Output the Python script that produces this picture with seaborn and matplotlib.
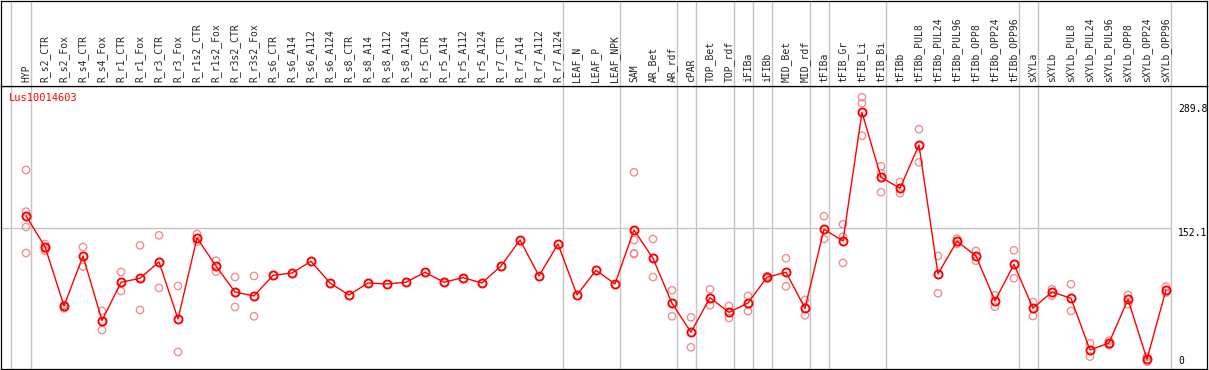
import matplotlib
matplotlib.use("Agg")
import matplotlib.pyplot as plt
import pandas as pd
import seaborn as sns

gene_id = "Lus10014603"

categories = [
    "HYP", "R_s2_CTR", "R_s2_Fox", "R_s4_CTR", "R_s4_Fox", "R_r1_CTR", "R_r1_Fox",
    "R_r3_CTR", "R_r3_Fox", "R_r1s2_CTR", "R_r1s2_Fox", "R_r3s2_CTR", "R_r3s2_Fox",
    "R_s6_CTR", "R_s6_A14", "R_s6_A112", "R_s6_A124", "R_s8_CTR", "R_s8_A14",
    "R_s8_A112", "R_s8_A124", "R_r5_CTR", "R_r5_A14", "R_r5_A112", "R_r5_A124",
    "R_r7_CTR", "R_r7_A14", "R_r7_A112", "R_r7_A124", "LEAF_N", "LEAF_P", "LEAF_NPK",
    "SAM", "AR_Bet", "AR_rdf", "cPAR", "TOP_Bet", "TOP_rdf", "iFIBa", "iFIBb",
    "MID_Bet", "MID_rdf", "tFIBa", "tFIB_Gr", "tFIB_Li", "tFIB_Bi", "tFIBb",
    "tFIBb_PUL8", "tFIBb_PUL24", "tFIBb_PUL96", "tFIBb_OPP8", "tFIBb_OPP24",
    "tFIBb_OPP96", "sXYLa", "sXYLb", "sXYLb_PUL8", "sXYLb_PUL24", "sXYLb_PUL96",
    "sXYLb_OPP8", "sXYLb_OPP24", "sXYLb_OPP96",
]

mean_values = [
    165.7, 131.7, 66.0, 121.4, 49.8, 92.3, 96.7, 114.8, 51.6, 141.4, 110.3, 81.5, 77.1,
    100.0, 102.6, 115.5, 91.5, 78.2, 91.5, 90.4, 92.3, 103.4, 92.3, 97.4, 91.5,
    110.3, 139.1, 99.3, 134.7, 78.2, 105.6, 90.4,
    150.2, 118.9, 69.0, 36.9, 75.2, 59.0, 69.3, 97.8, 103.4, 63.5,
    151.0, 138.0, 280.6, 208.6, 196.4, 244.4, 101.5, 137.7, 121.4, 71.6, 112.2,
    63.5, 81.5, 74.6, 17.3, 25.0, 73.4, 7.0, 83.7,
]

rep_values = [
    [216.7, 170.5, 153.5, 124.7], [134.7, 129.2, 127.0], [67.0, 63.5],
    [131.4, 109.6], [60.5, 39.4], [103.7, 82.6], [133.2, 61.6], [144.3, 86.0],
    [88.2, 15.1], [145.8, 137.3], [116.2, 104.0], [98.1, 64.9], [99.3, 54.6],
    [], [], [], [], [], [], [], [], [], [], [], [], [], [], [], [], [], [], [],
    [214.1, 139.1, 124.4, 123.6], [140.2, 98.1], [83.4, 54.6], [53.5, 20.3],
    [84.5, 66.8], [66.0, 52.7], [77.1, 60.2], [99.0, 96.6], [118.9, 87.8],
    [72.7, 55.7], [165.4, 140.2], [156.5, 142.8, 113.7], [297.2, 290.6, 254.7],
    [220.8, 213.0, 192.0], [203.4, 190.9], [261.8, 225.2], [121.4, 80.1],
    [140.6, 134.8], [127.0, 116.2], [77.9, 65.2], [127.7, 96.7], [70.5, 54.9],
    [84.5, 77.4], [90.1, 60.5], [24.7, 9.9], [27.6, 22.5], [78.2, 67.9],
    [9.9, 4.3], [87.4, 80.8],
]

y_marks = [289.8, 152.1, 0]
separators = [-0.8, 0.25, 28.25, 31.25, 34.25, 35.25, 37.25, 38.25, 39.25,
              41.25, 42.25, 45.25, 52.25, 53.25, 60.25]

positions = list(range(len(categories)))
mean_df = pd.DataFrame({"pos": positions, "value": mean_values})
rep_df = pd.DataFrame(
    [(i, v) for i, reps in enumerate(rep_values) for v in reps],
    columns=["pos", "value"],
)

sns.set_theme(style="white")
plt.rcParams["font.family"] = ["DejaVu Sans Mono", "DejaVu Sans"]

W, H = 1209, 370
fig = plt.figure(figsize=(W / 100, H / 100), dpi=100)
ax = fig.add_axes([1 / W, 1 / H, 1206 / W, 283 / H])
ax_head = fig.add_axes([1 / W, 284 / H, 1206 / W, 85 / H], sharex=ax)

grid_color = "#c4c4c4"
for s in separators:
    ax.axvline(s, color=grid_color, lw=1, zorder=0)
    ax_head.axvline(s, color=grid_color, lw=1, zorder=0)
ax.hlines(152.1, -1.4, 60.25, color=grid_color, lw=1, zorder=0)

sns.scatterplot(data=rep_df, x="pos", y="value", ax=ax, marker="o", s=28,
                facecolor="none", edgecolor="#ee9090", linewidth=1.0,
                legend=False, zorder=2)
sns.lineplot(data=mean_df, x="pos", y="value", ax=ax, color="red", linewidth=1,
             marker="o", markersize=5.8, markerfacecolor="none",
             markeredgecolor="red", markeredgewidth=1.4, zorder=3)

ax.set_xlim(-1.316, 62.16)
ax.set_ylim(-3.8, 309.7)
ax.set_xticks([])
ax.set_yticks([])
ax.set_xlabel("")
ax.set_ylabel("")

for m in y_marks:
    ax.text(60.63, m, f"{m:g}" if m == 0 else f"{m}", ha="left",
            va="bottom" if m == 0 else "top", fontsize=7, color="black")

ax.text(0.0069, 0.975, gene_id, transform=ax.transAxes, ha="left", va="top",
        fontsize=7.5, color="red")

for i, name in enumerate(categories):
    ax_head.text(i, 0.05, name, transform=ax_head.get_xaxis_transform(),
                 rotation=90, ha="center", va="bottom", fontsize=7)
ax_head.set_xticks([])
ax_head.set_yticks([])
ax_head.set_ylim(0, 1)

for a in (ax, ax_head):
    for spine in a.spines.values():
        spine.set_color("black")
        spine.set_linewidth(0.9)

fig.savefig("out.png", dpi=100)
